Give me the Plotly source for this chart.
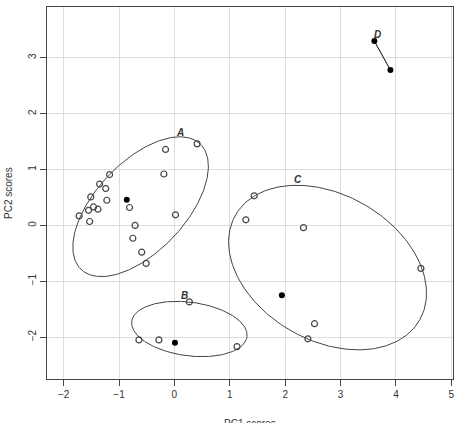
import numpy as np
import plotly.graph_objects as go

# ---- data ----
a_x = [0.41, -0.16, -0.19, -1.17, -1.35, -1.24, -1.51, -1.22, -0.81, -1.46, -1.55, -1.38, -1.72, -1.53, 0.02, -0.71, -0.75, -0.59, -0.51]
a_y = [1.46, 1.36, 0.92, 0.91, 0.74, 0.66, 0.51, 0.45, 0.32, 0.33, 0.27, 0.29, 0.17, 0.07, 0.19, 0.00, -0.23, -0.48, -0.68]
b_x = [0.27, -0.64, -0.28, 1.13]
b_y = [-1.37, -2.05, -2.05, -2.17]
c_x = [1.44, 1.29, 2.33, 4.45, 2.53, 2.41]
c_y = [0.53, 0.10, -0.04, -0.77, -1.76, -2.03]
filled_x = [-0.86, 0.01, 1.94]
filled_y = [0.46, -2.10, -1.25]
d_x = [3.61, 3.90]
d_y = [3.30, 2.78]

# ellipse parameters: centre x, centre y, semi-major, semi-minor, angle (deg)
ell_cx = [-0.61, 0.27, 2.765]
ell_cy = [0.335, -1.855, -0.755]
ell_a = [1.555, 1.05, 1.91]
ell_b = [0.804, 0.48, 1.31]
ell_ang = [46.1, -7.5, -29.0]

labels = ["A", "B", "C", "D"]
label_x = [0.10, 0.19, 2.24, 3.67]
label_y = [1.67, -1.25, 0.82, 3.42]

x_ticks = [-2, -1, 0, 1, 2, 3, 4, 5]
y_ticks = [-2, -1, 0, 1, 2, 3]

FONT = "Liberation Sans, Arial, sans-serif"
EDGE = "#444444"

fig = go.Figure()

t = np.linspace(0, 2 * np.pi, 300)
for cx, cy, a, b, ang in zip(ell_cx, ell_cy, ell_a, ell_b, ell_ang):
    th = np.deg2rad(ang)
    ex = cx + a * np.cos(t) * np.cos(th) - b * np.sin(t) * np.sin(th)
    ey = cy + a * np.cos(t) * np.sin(th) + b * np.sin(t) * np.cos(th)
    fig.add_trace(go.Scatter(x=ex, y=ey, mode="lines",
                             line=dict(color=EDGE, width=1), hoverinfo="skip"))

open_marker = dict(symbol="circle-open", size=6, color=EDGE, line=dict(width=1.2, color=EDGE))
for xs, ys in [(a_x, a_y), (b_x, b_y), (c_x, c_y)]:
    fig.add_trace(go.Scatter(x=xs, y=ys, mode="markers", marker=open_marker))

fig.add_trace(go.Scatter(x=filled_x, y=filled_y, mode="markers",
                         marker=dict(symbol="circle", size=6, color="black")))
fig.add_trace(go.Scatter(x=d_x, y=d_y, mode="lines+markers",
                         line=dict(color="black", width=1),
                         marker=dict(symbol="circle", size=6, color="black")))

for lab, lx, ly in zip(labels, label_x, label_y):
    fig.add_annotation(x=lx, y=ly, text=f"<b><i>{lab}</i></b>", showarrow=False,
                       font=dict(family=FONT, size=10, color="#333333"))

# axis titles
fig.add_annotation(xref="paper", yref="paper", x=0.5, y=0, yshift=-44, yanchor="middle",
                   text="PC1 scores", showarrow=False,
                   font=dict(family=FONT, size=10, color="#333333"))
fig.add_annotation(xref="paper", yref="paper", x=0, y=0.5, xshift=-39, xanchor="center",
                   text="PC2 scores", textangle=-90, showarrow=False,
                   font=dict(family=FONT, size=10, color="#333333"))

axis_common = dict(showline=True, linecolor=EDGE, linewidth=1, mirror=True,
                   ticks="outside", ticklen=6, tickcolor=EDGE, tickwidth=1,
                   showgrid=True, gridcolor="#dddddd", gridwidth=1, zeroline=False,
                   tickfont=dict(family=FONT, size=10, color="#333333"))

fig.update_layout(
    width=460, height=423, autosize=False,
    margin=dict(l=47, r=5, t=7, b=44),
    paper_bgcolor="white", plot_bgcolor="white",
    showlegend=False,
    xaxis=dict(range=[-2.30, 5.03], tickvals=x_ticks, **axis_common),
    yaxis=dict(range=[-2.75, 3.91], tickvals=y_ticks, tickangle=-90, **axis_common),
)

fig.write_html("out.html")
